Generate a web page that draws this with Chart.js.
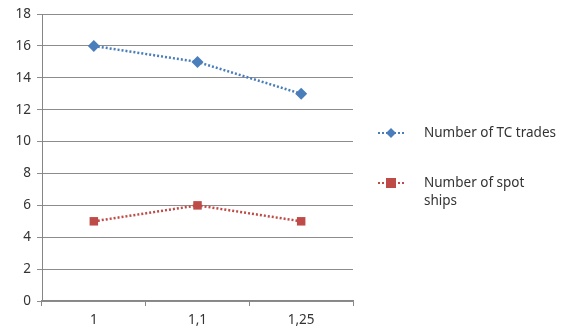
<!DOCTYPE html>
<html>
<head>
<meta charset="utf-8">
<script src="https://cdn.jsdelivr.net/npm/chart.js@4/dist/chart.umd.min.js"></script>
<style>
  html, body { margin: 0; padding: 0; background: #fff; }
  #wrap { width: 561px; height: 334px; }
</style>
</head>
<body>
<div id="wrap"><canvas id="chart" width="561" height="334"></canvas></div>
<script>

const categories = ["1", "1,1", "1,25"];
const tcTrades = [16, 15, 13];
const spotShips = [5, 6, 5];
const seriesNames = [["Number of TC trades"], ["Number of spot", "ships"]];

const blue = "#4a7ebb";
const red = "#be4b48";
const textColor = "#333333";
const font = { family: "'Noto Sans', 'Liberation Sans', sans-serif", size: 13.5 };

// legend drawn on the right, line + marker like the original
const sideLegend = {
    id: "sideLegend",
    afterDraw(chart) {
        const c = chart.ctx;
        const rows = [133, 183];
        chart.data.datasets.forEach((ds, i) => {
            const y = rows[i];
            c.save();
            c.strokeStyle = ds.borderColor;
            c.lineWidth = 2;
            c.setLineDash([2, 2]);
            c.beginPath();
            c.moveTo(378, y);
            c.lineTo(405, y);
            c.stroke();
            c.setLineDash([]);
            c.fillStyle = ds.backgroundColor;
            c.beginPath();
            if (ds.pointStyle === "rectRot") {
                c.moveTo(391, y - 5); c.lineTo(396, y); c.lineTo(391, y + 5); c.lineTo(386, y);
            } else {
                c.rect(386, y - 5, 10, 10);
            }
            c.fill();
            c.fillStyle = textColor;
            c.font = font.size + "px " + font.family;
            c.textBaseline = "middle";
            seriesNames[i].forEach((t, k) => c.fillText(t, 424, y + k * 18));
            c.restore();
        });
    }
};

new Chart(document.getElementById("chart"), {
    type: "line",
    data: {
        labels: categories,
        datasets: [{
            label: seriesNames[0].join(" "),
            data: tcTrades,
            borderColor: blue,
            backgroundColor: blue,
            borderWidth: 2.5,
            borderDash: [2, 2],
            pointStyle: "rectRot",
            pointRadius: 6,
            pointBorderWidth: 0,
            tension: 0
        }, {
            label: seriesNames[1].join(" "),
            data: spotShips,
            borderColor: red,
            backgroundColor: red,
            borderWidth: 2.5,
            borderDash: [2, 2],
            pointStyle: "rect",
            pointRadius: 6,
            pointBorderWidth: 0,
            tension: 0
        }]
    },
    options: {
        responsive: false,
        animation: false,
        layout: { padding: { left: 0, right: 208, top: 13, bottom: 0 } },
        plugins: { legend: { display: false }, tooltip: { enabled: false } },
        scales: {
            x: {
                offset: true,
                grid: { offset: true, drawOnChartArea: false, color: "#868686", tickLength: 5 },
                border: { color: "#868686", width: 1.2 },
                ticks: { color: textColor, font: font, padding: 6 },
                afterFit(s) { s.height = 33; }
            },
            y: {
                min: 0,
                max: 18,
                ticks: { stepSize: 2, color: textColor, font: font, padding: 6 },
                grid: { color: "#8c8c8c", tickLength: 5 },
                border: { color: "#868686" },
                afterFit(s) { s.width = 42; }
            }
        }
    },
    plugins: [sideLegend]
});

</script>
</body>
</html>
